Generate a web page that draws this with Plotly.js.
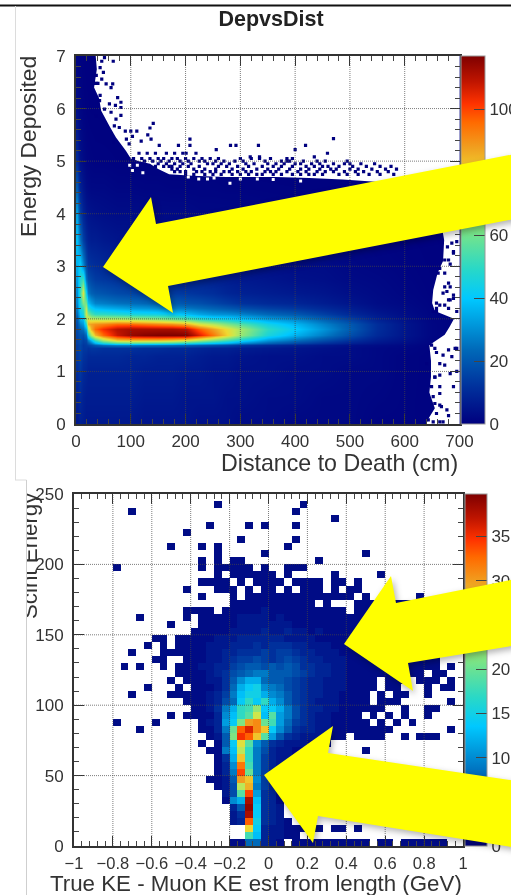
<!DOCTYPE html>
<html><head><meta charset="utf-8">
<script src="https://cdn.plot.ly/plotly-3.0.1.min.js"></script>
<style>
html,body{margin:0;padding:0;background:#fff;overflow:hidden}
#wrap{position:relative;width:511px;height:895px;overflow:hidden}
#chart,#over,#frame{position:absolute;left:0;top:0;width:560px;height:895px}
#chart{filter:blur(0.45px)}
#over{filter:drop-shadow(2px 3px 3px rgba(0,0,0,0.3));pointer-events:none}
#frame{pointer-events:none}
</style></head><body>
<div id="wrap"><div id="chart"></div><div id="frame"></div><div id="over"></div></div>
<script>
const W=560,H=895;
const px=x=>x/W, py=y=>1-y/H;
const FONT='Liberation Sans, Arial, sans-serif';

// ---- Top histogram: DepvsDist ----
const titleTop='DepvsDist';
const xLabelTop='Distance to Death (cm)';
const yLabelTop='Energy Deposited';
const topX=[2.5,7.5,12.5,17.5,22.5,27.5,35,50,75,100,125,150,175,200,225,250,275,300,350,400,450,500,550,600,650,697.5];
const topY=[0.05,0.5,1,1.3,1.45,1.5,1.55,1.6,1.7,1.8,1.9,2,2.1,2.2,2.3,2.5,2.75,3,3.5,4,4.5,5,6,7];
const topZ=[
[6,8,7,6,6,6,6,6,6,6,5,5,5,5,4,4,4,3,3,2,2,2,1,1,.6,.3],
[8,10,8,7,7,7,7,7,7,7,6,6,6,5,5,5,4,4,3,3,2,2,1.5,1,.6,.3],
[11,13,10,9,8,8,8,8,8,8,7,7,7,6,6,5,5,4,4,3,3,2,2,1,.7,.3],
[13,15,12,11,10,10,10,10,10,9,9,8,8,8,7,6,6,5,4,4,3,3,2,1,.7,.3],
[14,16,13,13,12,13,13,12,12,12,11,11,10,10,9,8,8,7,6,5,4,3,2,1.5,.7,.3],
[14,16,13,14,15,17,20,24,27,27,26,25,24,22,20,18,16,13,10,8,6,4,3,2,.8,.3],
[15,17,14,15,20,26,36,46,54,56,55,54,52,48,44,40,36,30,22,17,12,8,5,3,1,.4],
[15,18,15,17,28,38,52,68,82,84,84,84,82,78,70,62,54,46,32,25,18,12,7,4,1.2,.4],
[16,19,18,24,50,68,84,96,108,114,116,117,117,117,106,94,80,66,46,36,27,18,10,5,1.5,.5],
[17,22,25,35,70,85,96,103,110,112,112,112,112,110,98,88,78,68,50,41,31,21,11,5,1.5,.5],
[18,28,32,50,85,88,90,92,96,96,94,92,90,86,76,70,62,56,44,37,28,20,11,5,1.5,.5],
[20,35,38,65,78,72,72,70,70,68,66,64,60,56,50,46,44,40,33,29,22,15,8,4,1.3,.5],
[24,40,46,75,62,55,50,50,48,46,45,44,42,38,34,31,30,28,23,20,15,10,6,3,1.1,.4],
[27,45,52,70,48,42,38,36,34,32,31,30,28,26,24,22,20,18,15,13,10,7,4,2.5,1,.4],
[29,48,62,60,38,33,28,27,25,24,23,22,21,19,18,16,14,12,10,9,7,5,3,2,.9,.3],
[30,52,76,42,26,22,20,19,17,16,15,15,14,13,12,11,9,8,7,6,5,3.5,2.5,1.5,.7,.3],
[33,48,52,25,18,16,14,13,12,11,11,10,10,9,9,8,7,6,5,4,3.5,2.5,2,1.2,.6,.2],
[36,42,30,18,13,12,11,10,9,9,8,8,7,7,6,6,5,5,4,3,3,2,1.5,1,.5,.2],
[38,25,15,10,8,7,7,6,5,5,5,5,4,4,4,3.5,3,3,2.5,2,2,1.5,1,.7,.4,.2],
[33,15,9,6,5,4.5,4,3.5,3,3,3,2.5,2.5,2.5,2,2,2,2,1.5,1.2,1,1,.7,.5,.3,.1],
[20,8,5,3,2.5,2,2,2,1.5,1.5,1.2,1.2,1,1,1,1,.8,.8,.7,.6,.5,.4,.3,.2,.2,.1],
[10,4,2.5,1.5,1.2,1,.8,.8,.6,.5,.5,.4,.4,.4,.3,.3,.3,.3,.2,.2,.2,.1,.1,.1,.1,.1],
[3,1.5,.8,.5,.4,.3,.3,.2,.2,.1,.1,.1,.1,.1,.1,.1,.1,.1,.1,.1,.1,.1,.1,.1,.1,.1],
[1,.5,.3,.2,.2,.1,.1,.1,.1,.1,.1,.1,.1,.1,.1,.1,.1,.1,.1,.1,.1,.1,.1,.1,.1,.1]
];
// empty (white) part of the top histogram
const emptyX=[36,38,33,42,46,55,61,73,91,100,115,135,150,170,213,274,322,365,426,487,560,620,660,672,670,660,652,650,655,680,690,682,673,652,645,648,648,645,655,642,640,700,700,36];
const emptyY=[7,6.75,6.4,6.2,5.96,5.8,5.67,5.45,5.2,5.05,5,4.95,4.85,4.75,4.72,4.7,4.7,4.7,4.68,4.65,4.6,4.4,4.2,3.5,3.1,2.87,2.55,2.3,2.15,2.05,2,1.85,1.7,1.55,1.5,1.2,.9,.6,.3,.08,0,0,7,7];
// isolated low-count bins of the top histogram
const speckX=[30,47,52,68,44,50,37,47,33,37,40,55,67,64,44,43,76,82,61,72,52,64,82,82,37,73,70,79,141,135,131,137,90,100,111,103,119,92,69,97,152,187,208,208,256,282,292,333,400,419,470,459,435,219,201,335,318,
115,130,145,165,180,195,105,120,135,150,160,175,185,200,215,230,245,260,300,320,335,355,385,395,125,140,155,170,190,205,225,235,255,270,290,305,345,375,385,390,415,440,455,495,150,165,180,195,210,240,250,265,280,310,325,350,365,380,400,410,430,445,470,490,500,520,545,145,160,175,190,205,225,260,275,295,315,340,360,375,395,420,435,450,460,480,505,530,555,575,170,185,215,235,255,285,305,330,350,370,390,410,425,445,465,475,500,515,540,565,585,
175,190,200,220,230,245,255,270,280,295,310,320,345,355,365,385,405,420,440,455,470,490,510,525,550,570,
180,200,215,235,250,265,285,300,315,330,340,360,375,395,410,425,435,450,480,495,515,535,555,580,
678,678,689,695,686,689,680,673,683,664,673,661,673,680,683,677,689,670,680,689,673,664,658,652,658,683,680,695,
658,649,658,670,686,692,695,655,664,673,695,640,655,664,655,664,652,667,664,658,680,643,652,664,670,677,655,664,649,689,683,680];
const speckY=[6.9,6.9,6.97,6.9,6.78,6.69,6.63,6.56,6.48,6.48,6.48,6.47,6.47,6.4,6.25,6.15,6.21,6.12,6.09,6.06,5.99,5.93,6.02,5.87,5.85,5.8,5.67,5.64,5.72,5.63,5.5,5.42,5.57,5.57,5.57,5.47,5.38,5.42,5.36,5.33,5.3,5.3,5.42,5.3,5.22,5.3,5.3,5.3,5.22,5.3,5.43,5.15,5.08,5.15,5.15,5.08,5.08,
5.15,5.15,5.15,5.15,5.15,5.15,5.05,5.05,5.05,5.05,5.05,5.05,5.05,5.05,5.05,5.05,5.05,5.05,5.05,5.05,5.05,5.05,5.05,5.05,5,5,5,5,5,5,5,5,5,5,5,5,5,5,5,5,5,5,5,5,4.95,4.95,4.95,4.95,4.95,4.95,4.95,4.95,4.95,4.95,4.95,4.95,4.95,4.95,4.95,4.95,4.95,4.95,4.95,4.95,4.95,4.95,4.95,4.9,4.9,4.9,4.9,4.9,4.9,4.9,4.9,4.9,4.9,4.9,4.9,4.9,4.9,4.9,4.9,4.9,4.9,4.9,4.9,4.9,4.9,4.9,4.9,4.85,4.85,4.85,4.85,4.85,4.85,4.85,4.85,4.85,4.85,4.85,4.85,4.85,4.85,4.85,4.85,4.85,4.85,4.85,4.85,4.85,
4.8,4.8,4.8,4.8,4.8,4.8,4.8,4.8,4.8,4.8,4.8,4.8,4.8,4.8,4.8,4.8,4.8,4.8,4.8,4.8,4.8,4.8,4.8,4.8,4.8,4.8,
4.75,4.75,4.75,4.75,4.75,4.75,4.75,4.75,4.75,4.75,4.75,4.75,4.75,4.75,4.75,4.75,4.75,4.75,4.75,4.75,4.75,4.75,4.75,4.75,
3.37,3.28,3.47,3.44,3.25,3.12,3.12,3.04,2.96,2.87,2.87,2.61,2.68,2.61,2.52,2.45,2.49,2.36,2.39,2.26,2.26,2.14,2.14,2.3,2.36,2.2,2.14,2.2,
1.5,1.36,1.31,1.28,1.44,1.44,1.44,1.15,1.12,1,1.15,.89,.93,.89,.71,.52,.33,.36,.2,.16,.08,.04,.04,.04,.27,.39,.58,.71,.71,.96,1.41,1.47];
// single empty bins inside the filled area
const holeX=[98,103,112,122,224,281,252,300,331,205,240,360,410,72,58,65,78];
const holeY=[4.92,4.82,4.92,4.78,4.66,4.58,4.68,4.66,4.66,4.7,4.66,4.65,4.62,5.55,6.05,5.9,5.6];
const topXTicks=[100,200,300,400,500,600];
const topYTicks=[1,2,3,4,5,6];
const topColorMax=117;

// ---- Bottom histogram ----
const xLabelBot='True KE - Muon KE est from length (GeV)';
const yLabelBot='Scint Energy';
const botX=[-0.98,-0.94,-0.9,-0.86,-0.82,-0.78,-0.74,-0.7,-0.66,-0.62,-0.58,-0.54,-0.5,-0.46,-0.42,-0.38,-0.34,-0.3,-0.26,-0.22,-0.18,-0.14,-0.1,-0.06,-0.02,0.02,0.06,0.1,0.14,0.18,0.22,0.26,0.3,0.34,0.38,0.42,0.46,0.5,0.54,0.58,0.62,0.66,0.7,0.74,0.78,0.82,0.86,0.9,0.94,0.98];
const botY=[247.5,242.5,237.5,232.5,227.5,222.5,217.5,212.5,207.5,202.5,197.5,192.5,187.5,182.5,177.5,172.5,167.5,162.5,157.5,152.5,147.5,142.5,137.5,132.5,127.5,122.5,117.5,112.5,107.5,102.5,97.5,92.5,87.5,82.5,77.5,72.5,67.5,62.5,57.5,52.5,47.5,42.5,37.5,32.5,27.5,22.5,17.5,12.5,7.5,2.5];
const botZ=[
[0,0,0,0,0,0,0,0,0,0, 0,0,0,0,0,0,0,0,0,0, 0,0,0,0,0,0,0,0,0,0, 0,0,0,0,0,0,0,0,0,0, 0,0,0,0,0,0,0,0,0,0],
[0,0,0,0,0,0,0,0,0,0, 0,0,0,0,0,0,0,0,1,0, 0,0,0,0,0,0,0,0,0,1, 0,0,0,0,0,0,0,0,0,0, 0,0,0,0,0,0,0,0,0,0],
[0,0,0,0,0,0,0,1,0,0, 0,0,0,0,0,0,0,0,0,0, 0,0,0,0,0,0,0,0,1,0, 0,0,0,0,0,0,0,0,0,0, 0,0,0,0,0,0,0,0,0,0],
[0,0,0,0,0,0,0,0,0,0, 0,0,0,0,0,0,0,0,0,0, 0,0,0,0,0,0,0,0,0,0, 0,0,0,1,0,0,0,0,0,0, 0,0,0,0,0,0,0,0,0,0],
[0,0,0,0,0,0,0,0,0,0, 0,0,0,0,0,0,0,1,0,0, 0,0,1,0,1,0,0,0,1,0, 0,0,0,0,0,0,0,0,0,0, 0,0,0,0,0,0,0,0,0,0],
[0,0,0,0,0,0,0,0,0,0, 0,0,0,0,1,0,0,0,0,0, 0,0,0,0,0,0,0,0,0,0, 0,0,0,0,0,0,0,0,0,0, 0,0,0,0,0,0,0,0,0,0],
[0,0,0,0,0,0,0,0,0,0, 0,0,0,0,0,0,0,0,0,0, 0,1,0,0,0,0,0,0,1,0, 0,0,0,0,0,0,0,0,0,0, 0,0,0,0,0,0,0,0,0,0],
[0,0,0,0,0,0,0,0,0,0, 0,0,1,0,0,0,1,0,1,0, 0,0,0,0,0,0,0,1,0,0, 0,0,0,0,0,0,0,0,0,0, 0,0,0,0,0,0,0,0,0,0],
[0,0,0,0,0,0,0,0,0,0, 0,0,0,0,0,0,0,0,1,0, 0,0,0,0,1,0,0,0,0,0, 0,0,0,0,0,0,0,1,0,0, 0,0,0,0,0,0,0,0,0,0],
[0,0,0,0,0,0,0,0,0,0, 0,0,0,0,0,0,1,0,1,0, 1,1,0,0,0,0,0,0,0,0, 0,1,0,0,0,0,0,0,0,0, 0,0,0,0,0,0,0,0,0,0],
[0,0,0,0,0,1,0,0,0,0, 0,0,0,0,0,0,1,0,1,1, 1,1,1,0,1,0,0,1,1,1, 0,0,0,0,0,0,0,0,0,0, 0,0,0,0,0,0,0,0,0,0],
[0,0,0,0,0,0,0,0,0,0, 0,0,0,0,0,0,0,0,1,0, 1,1,1,1,1,1,0,1,0,0, 0,0,0,1,0,0,0,0,0,1, 0,0,0,0,0,0,0,0,0,0],
[0,0,0,0,0,0,0,0,0,0, 0,0,0,0,0,0,1,1,1,1, 0,1,0,1,1,1,1,0,1,1, 1,1,0,1,1,0,1,0,0,0, 0,0,0,0,0,0,0,0,0,0],
[0,0,0,0,0,0,0,0,0,0, 0,0,0,0,1,0,0,0,1,1, 1,0,1,0,1,1,0,1,0,1, 1,1,0,1,0,1,1,0,0,0, 0,0,0,0,0,0,0,0,0,0],
[0,0,0,0,0,0,0,0,0,0, 0,0,0,0,0,0,1,0,0,0, 1,0,1,1,1,1,1,1,1,1, 1,1,1,1,1,1,0,1,0,0, 0,0,0,0,1,0,0,0,0,0],
[0,0,0,0,0,0,0,0,0,0, 0,0,0,0,0,0,0,0,0,0, 1,1,1,1,1,1,1,1,1,1, 1,0,1,0,0,0,1,1,1,1, 0,1,1,1,0,0,0,0,0,0],
[0,0,0,0,0,0,0,0,0,0, 0,0,0,0,1,1,1,1,0,1, 1,1,1,1,2,1,1,1,1,1, 1,1,1,1,1,0,1,1,1,1, 1,1,1,0,0,0,0,0,0,0],
[0,0,0,0,0,0,0,0,1,0, 0,0,0,0,1,0,1,1,1,1, 1,2,2,2,2,1,2,1,1,1, 1,1,1,1,1,1,1,1,1,1, 1,1,0,0,0,0,0,0,0,0],
[0,0,0,0,0,0,0,0,0,0, 0,0,1,0,0,0,1,1,1,1, 1,2,2,2,2,2,2,2,1,1, 1,1,1,1,1,1,1,1,1,1, 1,1,1,0,0,0,0,0,0,0],
[0,0,0,0,0,0,0,0,0,0, 0,0,0,0,0,1,1,1,1,1, 2,2,2,2,3,2,2,3,2,2, 1,2,1,1,1,1,1,1,1,1, 1,1,1,1,0,0,0,0,0,0],
[0,0,0,0,0,0,0,0,0,0, 1,1,0,1,1,1,1,1,2,2, 2,3,3,3,3,3,3,2,2,2, 2,1,1,1,1,1,1,1,1,1, 1,1,1,1,1,0,0,0,0,0],
[0,0,0,0,0,0,0,0,0,1, 0,1,0,1,1,1,1,2,2,2, 3,3,3,4,3,4,4,4,3,3, 2,2,2,1,1,1,1,1,1,1, 1,1,1,1,1,0,0,0,0,0],
[0,0,0,0,0,0,0,1,0,0, 0,1,1,1,1,1,1,2,2,3, 3,4,4,4,5,4,5,5,4,3, 3,2,2,2,1,1,1,1,1,1, 1,1,1,1,1,0,0,0,0,0],
[0,0,0,0,0,0,0,0,0,0, 1,1,0,0,1,1,1,2,2,3, 4,5,5,6,5,4,5,6,5,4, 3,3,2,2,2,1,1,1,1,1, 1,1,1,1,1,1,1,0,0,0],
[0,0,0,0,0,0,1,0,1,0, 0,1,0,1,1,1,2,2,3,3, 5,6,7,7,6,7,6,7,6,4, 4,3,3,2,2,1,1,1,1,1, 1,1,1,1,1,1,1,0,1,0],
[0,0,0,0,0,0,0,0,0,0, 0,0,0,1,1,1,1,2,3,4, 6,7,8,9,9,7,7,7,6,5, 4,3,3,2,2,1,1,1,1,1, 1,1,1,1,1,0,1,1,0,0],
[0,0,0,0,0,0,0,0,0,0, 0,0,1,0,1,1,1,2,2,4, 7,10,12,12,8,7,7,6,5,4, 3,3,2,2,2,1,1,1,1,0, 1,1,1,0,1,1,1,0,1,0],
[0,0,0,0,0,0,0,0,0,1, 0,0,0,1,0,1,1,1,2,4, 8,12,14,15,10,9,8,6,5,4, 3,3,2,2,2,1,1,1,1,0, 1,1,0,0,0,1,0,1,1,0],
[0,0,0,0,0,0,0,1,0,0, 0,0,1,1,1,1,1,2,3,5, 9,13,15,15,12,10,9,7,5,4, 3,3,2,2,1,1,1,1,0,1, 0,1,1,0,0,1,0,0,0,0],
[0,0,0,0,0,0,0,0,0,0, 0,0,0,0,1,1,1,2,3,6, 8,14,17,14,17,12,10,7,5,4, 3,2,2,2,1,1,1,1,0,1, 1,1,0,0,0,0,0,0,1,0],
[0,0,0,0,0,0,0,0,0,0, 0,0,0,0,0,1,1,2,4,9, 12,17,18,22,14,14,12,9,6,4, 3,3,2,2,1,1,1,1,1,1, 0,0,1,0,0,1,1,0,0,0],
[0,0,0,0,0,0,0,0,0,0, 0,0,1,0,1,1,1,1,3,10, 13,17,19,25,13,19,11,9,6,4, 3,2,2,1,1,1,1,0,1,0, 1,0,1,0,0,1,0,0,0,0],
[0,0,0,0,0,1,0,0,0,0, 1,0,0,0,0,0,1,2,3,11, 14,21,30,31,20,18,11,8,5,4, 3,2,2,1,1,1,1,1,0,1, 0,1,0,1,0,0,0,0,0,0],
[0,0,0,0,0,0,0,0,1,0, 0,0,0,0,0,0,1,1,3,9, 20,33,36,31,28,14,10,7,4,3, 3,2,2,1,1,1,1,1,1,1, 1,0,0,0,0,0,0,0,1,0],
[0,0,0,0,0,0,0,0,0,0, 0,0,0,0,0,0,0,1,2,7, 21,35,33,28,19,11,7,4,3,2, 2,2,1,1,1,0,1,1,1,1, 0,0,1,0,1,1,1,0,0,0],
[0,0,0,0,0,0,0,0,0,0, 0,0,0,0,0,0,1,0,1,7, 14,26,19,10,7,4,3,2,2,2, 1,1,1,0,0,0,0,0,0,0, 0,0,0,0,0,0,0,0,0,0],
[0,0,0,0,0,0,0,0,0,0, 0,0,0,0,0,0,0,1,1,9, 13,24,17,9,6,3,2,2,1,1, 0,0,0,0,0,0,0,1,0,0, 0,0,0,0,0,0,0,0,0,0],
[0,0,0,0,0,0,0,0,0,0, 0,0,0,0,0,0,0,0,1,4, 12,28,17,9,5,3,2,2,1,1, 0,0,0,0,0,0,0,0,0,0, 0,0,0,0,0,0,0,0,0,0],
[0,0,0,0,0,0,0,0,0,0, 0,0,0,0,0,0,0,0,1,3, 10,32,18,9,5,3,2,1,1,0, 0,0,0,0,0,0,0,0,0,0, 0,0,0,0,0,0,0,0,0,0],
[0,0,0,0,0,0,0,0,0,0, 0,0,0,0,0,0,0,0,1,3, 9,34,20,9,5,3,2,0,0,0, 0,0,0,0,0,0,0,0,0,0, 0,0,0,0,0,0,0,0,0,0],
[0,0,0,0,0,0,0,0,0,0, 0,0,0,0,0,0,0,1,1,2, 7,30,28,10,5,3,2,0,0,0, 0,0,0,0,0,0,0,0,0,0, 0,0,0,0,0,0,0,0,0,0],
[0,0,0,0,0,0,0,0,0,0, 0,0,0,0,0,0,0,0,1,2, 6,24,29,9,5,3,1,0,0,0, 0,0,0,0,0,0,0,0,0,0, 0,0,0,0,0,0,0,0,0,0],
[0,0,0,0,0,0,0,0,0,0, 0,0,0,0,0,0,0,0,0,2, 6,19,34,11,4,3,1,0,0,0, 0,0,0,0,0,0,0,0,0,0, 0,0,0,0,0,0,0,0,0,0],
[0,0,0,0,0,0,0,0,0,0, 0,0,0,0,0,0,0,0,0,1, 10,12,38,13,4,3,1,0,0,0, 0,0,0,0,0,0,0,0,0,0, 0,0,0,0,0,0,0,0,0,0],
[0,0,0,0,0,0,0,0,0,0, 0,0,0,0,0,0,0,0,0,0, 3,7,39,14,4,3,2,0,0,0, 0,0,0,0,0,0,0,0,0,0, 0,0,0,0,0,0,0,0,0,0],
[0,0,0,0,0,0,0,0,0,0, 0,0,0,0,0,0,0,0,0,0, 2,4,38,14,4,3,2,0,0,0, 0,0,0,0,0,0,0,0,0,0, 0,0,0,0,0,0,0,0,0,0],
[0,0,0,0,0,0,0,0,0,0, 0,0,0,0,0,0,0,0,0,0, 2,3,33,15,4,3,2,1,0,0, 0,0,0,0,0,0,0,0,0,0, 0,0,0,0,0,0,0,0,0,0],
[0,0,0,0,0,0,0,0,0,0, 0,0,0,0,0,0,0,0,0,0, 0,0,27,14,3,2,2,1,1,1, 1,1,0,1,1,0,1,0,0,0, 0,0,0,0,0,0,0,0,0,0],
[0,0,0,0,0,0,0,0,0,0, 0,0,0,0,0,0,0,0,0,0, 0,0,18,13,3,2,2,1,1,0, 0,0,0,0,0,0,0,0,0,0, 0,0,0,0,0,0,0,0,0,0],
[0,0,0,0,0,0,0,0,0,0, 0,0,0,0,0,0,0,0,0,0, 1,1,8,8,3,2,1,0,1,1, 1,1,1,1,1,1,1,1,0,1, 1,0,1,1,1,1,1,1,0,0]
];
const botXTicks=[-0.8,-0.6,-0.4,-0.2,0,0.2,0.4,0.6,0.8];
const botYTicks=[50,100,150,200];
const botColorMax=39.8;

const palette=[[0,'#00007f'],[0.1,'#00309c'],[0.2,'#0068b8'],[0.34,'#00c8ff'],[0.42,'#28d8c8'],[0.52,'#78e488'],[0.62,'#c8e850'],[0.68,'#f0d830'],[0.75,'#f0a020'],[0.82,'#ff6a00'],[0.87,'#ff3300'],[0.93,'#c01500'],[1,'#7f0000']];
const NAVY='#00007f', INK='#333333';

const cb=(l,t,w,h,dt)=>({x:px(l),xanchor:'left',y:py(t+h),yanchor:'bottom',thickness:w,thicknessmode:'pixels',len:h/H,lenmode:'fraction',xpad:0,ypad:0,
  outlinecolor:'#999',outlinewidth:1,borderwidth:0,ticks:'inside',ticklen:11,tickcolor:'#444',tickwidth:1,tick0:0,dtick:dt,
  tickfont:{family:FONT,size:17,color:INK}});

const data=[
 {type:'heatmap',x:topX,y:topY,z:topZ,zmin:0,zmax:topColorMax,zsmooth:'best',colorscale:palette,colorbar:cb(461,56,24,368,20),xaxis:'x',yaxis:'y',hoverinfo:'skip'},
 {type:'scatter',mode:'lines',x:emptyX,y:emptyY,fill:'toself',fillcolor:'#ffffff',line:{width:0,color:'#ffffff'},xaxis:'x',yaxis:'y',hoverinfo:'skip',showlegend:false},
 {type:'scatter',mode:'markers',x:holeX,y:holeY,marker:{symbol:'square',size:3,color:'#ffffff',line:{width:0}},xaxis:'x',yaxis:'y',hoverinfo:'skip',showlegend:false},
 {type:'scatter',mode:'markers',x:speckX,y:speckY,marker:{symbol:'square',size:3.2,color:NAVY,line:{width:0}},xaxis:'x',yaxis:'y',hoverinfo:'skip',showlegend:false},
 {type:'heatmap',x:botX,y:botY,z:botZ.map(r=>r.map(v=>v===0?null:v)),zmin:0,zmax:botColorMax,colorscale:palette,colorbar:cb(465,494,22,352,5),xaxis:'x2',yaxis:'y2',hoverinfo:'skip',xgap:0,ygap:0}
];

const axisBase={showgrid:false,zeroline:false,ticks:'inside',ticklen:10,tickwidth:1,tickcolor:'#333',showline:true,linecolor:'#333',linewidth:2,mirror:'ticks',
  tickfont:{family:FONT,size:17,color:INK},layer:'above traces',ticklabelstandoff:5};
const minor=d=>({dtick:d,ticks:'inside',ticklen:5,tickwidth:1,tickcolor:'#444',showgrid:false});

const gridLine=(xr,yr,x0,y0,x1,y1)=>({type:'line',layer:'above',xref:xr,yref:yr,x0,y0,x1,y1,line:{color:'rgba(70,70,70,0.7)',width:1,dash:'1px,1px'}});
const shapes=[];
topXTicks.forEach(v=>shapes.push(gridLine('x','y',v,0,v,7)));
topYTicks.forEach(v=>shapes.push(gridLine('x','y',0,v,700,v)));
botXTicks.forEach(v=>shapes.push(gridLine('x2','y2',v,0,v,250)));
botYTicks.forEach(v=>shapes.push(gridLine('x2','y2',-1,v,1,v)));

const note=(text,x,y,size,opts)=>Object.assign({text,xref:'paper',yref:'paper',x:px(x),y:py(y),showarrow:false,font:{family:FONT,size,color:INK}},opts);

const layout={
 width:W,height:H,margin:{l:0,r:0,t:0,b:0,pad:0},paper_bgcolor:'rgba(0,0,0,0)',plot_bgcolor:'#fff',showlegend:false,
 title:{text:'<b>'+titleTop+'</b>',x:px(271),xanchor:'center',y:py(18),yanchor:'middle',font:{family:FONT,size:21.5,color:'#222'}},
 xaxis:Object.assign({},axisBase,{domain:[px(76),px(459.5)],range:[0,700],dtick:100,tick0:0,anchor:'y',minor:minor(20),ticklabelstandoff:1}),
 yaxis:Object.assign({},axisBase,{domain:[py(424),py(56)],range:[0,7],dtick:1,tick0:0,anchor:'x',minor:minor(0.2)}),
 xaxis2:Object.assign({},axisBase,{domain:[px(74),px(463)],range:[-1,1],dtick:0.2,tick0:-1,anchor:'y2',minor:minor(0.04),ticklabelstandoff:1,tickfont:{family:FONT,size:16.5,color:INK}}),
 yaxis2:Object.assign({},axisBase,{domain:[py(846),py(494)],range:[0,250],dtick:50,tick0:0,anchor:'x2',minor:minor(10)}),
 shapes,
 annotations:[
  note(xLabelTop,460,463,23.2,{xanchor:'right',yanchor:'middle'}),
  note(yLabelTop,28,147,22.8,{textangle:-90,xanchor:'center',yanchor:'middle'}),
  note(xLabelBot,464,883,22.3,{xanchor:'right',yanchor:'middle'}),
  note(yLabelBot,29,556,22.3,{textangle:-90,xanchor:'center',yanchor:'middle'})
 ]
};
const config={staticPlot:true,displayModeBar:false};

// ---- Slide decoration and yellow call-out arrows, in page pixels ----
const arrowTop=[[103,267],[151,197],[156,224],[530,151],[530,216],[168,286],[173,313]];
const arrowMid=[[344,644],[391,576],[396,603],[530,576],[530,643],[408,663],[413,691]];
const arrowLow=[[264,775],[333,726],[328,753],[530,783],[530,850],[318,816],[313,843]];
const poly=(pts,color)=>({type:'path',layer:'above',xref:'paper',yref:'paper',path:'M'+pts.map(p=>px(p[0])+','+py(p[1])).join('L')+'Z',fillcolor:color,line:{width:0}});
const seg=(x0,y0,x1,y1,color,w)=>({type:'line',layer:'above',xref:'paper',yref:'paper',x0:px(x0),y0:py(y0),x1:px(x1),y1:py(y1),line:{color,width:w}});

const bare={width:W,height:H,margin:{l:0,r:0,t:0,b:0},paper_bgcolor:'rgba(0,0,0,0)',plot_bgcolor:'rgba(0,0,0,0)',xaxis:{visible:false},yaxis:{visible:false}};
const overLayout=Object.assign({},bare,{shapes:[poly(arrowTop,'#ffff00'),poly(arrowMid,'#ffff00'),poly(arrowLow,'#ffff00')]});
const frameLayout=Object.assign({},bare,{shapes:[
 {type:'rect',layer:'above',xref:'paper',yref:'paper',x0:0,x1:px(26),y0:0,y1:py(480),fillcolor:'#fff',line:{width:0}},
 seg(0,5.5,W,5.5,'#111',2.2),
 seg(15.5,6,15.5,480,'#dcdcdc',1),
 seg(15,480,26.5,480,'#dcdcdc',1),
 seg(26.5,480,26.5,895,'#cfcfcf',1)
]});

Plotly.newPlot('chart',data,layout,config);
Plotly.newPlot('frame',[],frameLayout,config);
Plotly.newPlot('over',[],overLayout,config);
</script>
</body></html>
